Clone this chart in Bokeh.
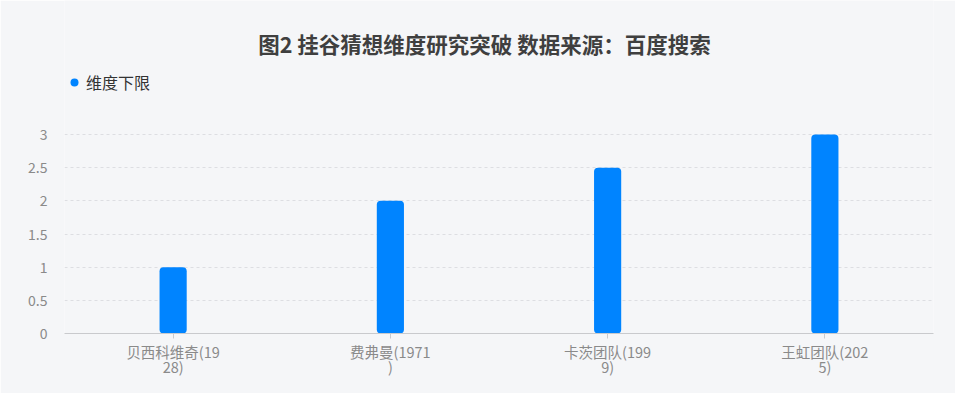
from bokeh.plotting import figure
from bokeh.models import Label, Legend, LegendItem, FixedTicker, Range1d, ColumnDataSource
from bokeh.embed import file_html
from bokeh.resources import INLINE

title_text = "图2 挂谷猜想维度研究突破 数据来源：百度搜索"
series_name = "维度下限"
# category labels, wrapped as in the reference axis
categories = ["贝西科维奇(19\n28)", "费弗曼(1971\n)", "卡茨团队(199\n9)", "王虹团队(202\n5)"]
values = [1, 2, 2.5, 3]
y_ticks = [0, 0.5, 1, 1.5, 2, 2.5, 3]

FONT = "Noto Sans CJK SC"
BLUE = "#0084ff"
BG = "#f5f6f8"
W, H = 955, 393
FRAME_L, FRAME_R, FRAME_B = 64, 933, 333
Y_TOP_PX = 134          # pixel row of the value 3 gridline
Y_MAX = 3
# the frame reaches the top of the canvas so that title and legend sit inside it
y_end = Y_MAX * FRAME_B / (FRAME_B - Y_TOP_PX)

p = figure(
    x_range=categories, y_range=Range1d(0, y_end),
    width=W, height=H,
    min_border_left=FRAME_L, min_border_right=W - FRAME_R, min_border_top=0,
    min_border_bottom=H - FRAME_B,
    output_backend="svg", toolbar_location=None,
    background_fill_color=BG, border_fill_color=BG,
)
p.outline_line_color = None

src = ColumnDataSource(dict(x=categories, top=values))
p.vbar(x="x", top="top", width=0.125, source=src, fill_color=BLUE, line_color=None, border_radius=4)

# title (screen units measured from the frame's bottom-left corner)
p.add_layout(Label(
    x=484 - FRAME_L, y=FRAME_B - 43, x_units="screen", y_units="screen",
    text=title_text, text_align="center", text_baseline="middle",
    text_font=FONT, text_font_size="21.5px", text_font_style="bold", text_color="#3f3f3f",
))

# legend key renderer (hidden; only its legend entry is shown)
dot = p.scatter(x=categories, y=values, size=8, fill_color=BLUE, line_color=None, visible=False)
legend = Legend(
    items=[LegendItem(label=series_name, renderers=[dot])],
    location=(0, FRAME_B - 94),
    glyph_width=20, glyph_height=20, label_height=20, label_standoff=2,
    padding=0, margin=0, spacing=0, click_policy="none",
    background_fill_alpha=0, border_line_color=None,
    label_text_font=FONT, label_text_font_size="16px", label_text_color="#333333",
)
p.add_layout(legend)

ax = p.xaxis[0]
ax.axis_line_color = "#c9cacd"
ax.major_tick_line_color = "#c9cacd"
ax.major_tick_out = 5
ax.major_tick_in = 0
ax.minor_tick_line_color = None
ax.major_label_standoff = 2
ax.major_label_text_font = FONT
ax.major_label_text_font_size = "14.5px"
ax.major_label_text_color = "#8a8a8a"
ax.major_label_text_line_height = 0.72

p.yaxis.ticker = FixedTicker(ticks=y_ticks)
p.yaxis.axis_line_color = None
p.yaxis.major_tick_line_color = None
p.yaxis.minor_tick_line_color = None
p.yaxis.major_label_standoff = 11
p.yaxis.major_label_text_font = FONT
p.yaxis.major_label_text_font_size = "14px"
p.yaxis.major_label_text_color = "#8a8a8a"

p.xgrid.grid_line_color = None
p.ygrid.grid_line_color = "#dddee2"
p.ygrid.grid_line_dash = "3 3"

open("out.html", "w").write(file_html(p, INLINE))
